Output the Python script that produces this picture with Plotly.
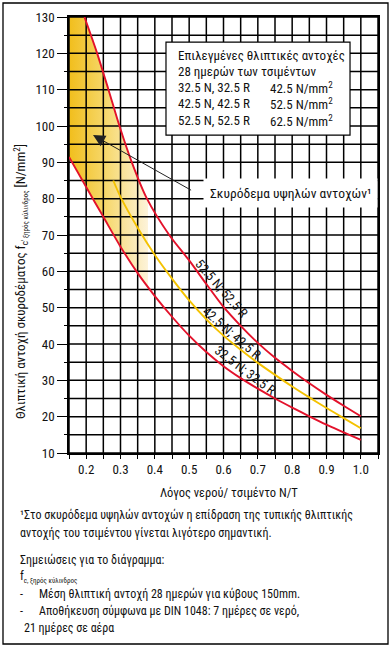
import numpy as np
import plotly.graph_objects as go

# ---------------- data ----------------
# 52.5 N, 52.5 R (upper red)
x_525 = [0.195, 0.232, 0.265, 0.297, 0.333, 0.377, 0.442, 0.50, 0.55, 0.60, 0.65, 0.70, 0.75, 0.80, 0.85, 0.90, 0.95, 1.00]
y_525 = [130, 120, 110, 100, 90, 80, 70, 63, 56.5, 50.2, 45, 40.3, 36.2, 32.6, 29.2, 26, 23, 20.1]
# 42.5 N, 42.5 R (yellow)
x_425 = [0.279, 0.30, 0.35, 0.40, 0.45, 0.50, 0.55, 0.60, 0.65, 0.70, 0.75, 0.80, 0.85, 0.90, 0.95, 1.00]
y_425 = [85, 80.5, 72, 64.5, 58, 52, 46.8, 42.3, 38.4, 34.8, 31.5, 28.3, 25.3, 22.4, 19.6, 16.8]
# 32.5 N, 32.5 R (lower red)
x_325 = [0.15, 0.20, 0.25, 0.30, 0.35, 0.40, 0.45, 0.50, 0.55, 0.60, 0.65, 0.70, 0.75, 0.80, 0.85, 0.90, 0.95, 1.00]
y_325 = [91.5, 83.2, 75, 66.8, 59.5, 53.2, 47.5, 42.3, 37.8, 33.9, 30.6, 27.7, 25.0, 22.5, 20.1, 17.8, 15.7, 13.6]

# high-strength concrete zone (shaded) ends at this w/c
hs_x_end = 0.38

x_range = [0.15, 1.05]
y_range = [10, 130]
x_tick_vals = [0.2, 0.3, 0.4, 0.5, 0.6, 0.7, 0.8, 0.9, 1.0]
x_tick_text = ["0.2", "0.3", "0.4", "0.5", "0.6", "0.7", "0.8", "0.9", "1.0"]
y_tick_vals = [10, 20, 30, 40, 50, 60, 70, 80, 90, 100, 110, 120, 130]

legend_title = ["Επιλεγμένες θλιπτικές αντοχές", "28 ημερών των τσιμέντων"]
legend_cement = ["32.5 N, 32.5 R", "42.5 N, 42.5 R", "52.5 N, 52.5 R"]
legend_strength = ["42.5 N/mm<sup>2</sup>", "52.5 N/mm<sup>2</sup>", "62.5 N/mm<sup>2</sup>"]

FONT = "Roboto Condensed, DejaVu Sans Condensed, Liberation Sans Narrow, Liberation Sans, Arial, sans-serif"
RED = "#E3122B"
YEL = "#F4C200"

# ---------------- figure ----------------
W, H = 392, 648
L, R, T, B = 69, 14, 17, 195
pw, ph = W - L - R, H - T - B

def px_x(p):
    return (p - L) / pw

def px_y(p):
    return (H - B - p) / ph

fig = go.Figure()

# gradient filled zone between the 32.5 and 52.5 curves
xs = np.linspace(x_range[0], hs_x_end, 80)
lo = np.interp(xs, x_325, y_325)
up = np.minimum(np.interp(xs, x_525, y_525, left=y_range[1]), y_range[1])
fig.add_trace(go.Scatter(
    x=np.concatenate([xs, xs[::-1]]), y=np.concatenate([lo, up[::-1]]),
    mode="lines", line=dict(width=0), fill="toself",
    fillgradient=dict(type="horizontal",
                      colorscale=[[0, "#F1BE1C"], [0.45, "#F6D769"], [1, "#FDF3DA"]]),
    hoverinfo="skip", showlegend=False))

# grid drawn above the fill
gx, gy = [], []
for v in np.arange(x_range[0], x_range[1] + 1e-9, 0.05):
    gx += [v, v, None]
    gy += [y_range[0], y_range[1], None]
for v in np.arange(y_range[0], y_range[1] + 1e-9, 5):
    gx += [x_range[0], x_range[1], None]
    gy += [v, v, None]
fig.add_trace(go.Scatter(x=gx, y=gy, mode="lines", line=dict(color="black", width=1.5),
                         hoverinfo="skip", showlegend=False))

for xv, yv, col in [(x_325, y_325, RED), (x_425, y_425, YEL), (x_525, y_525, RED)]:
    fig.add_trace(go.Scatter(x=xv, y=yv, mode="lines",
                             line=dict(color=col, width=1.9, shape="spline", smoothing=0.8),
                             hoverinfo="skip", showlegend=False))

fig.update_xaxes(range=x_range, tickvals=x_tick_vals, ticktext=x_tick_text, automargin=False,
                 showgrid=False, zeroline=False, showline=True, mirror=True,
                 linecolor="black", linewidth=1.5,
                 ticks="outside", ticklen=4, tickwidth=1.2, tickcolor="black",
                 minor=dict(dtick=0.05, tick0=0.15, ticks="outside", ticklen=4, tickwidth=1.2,
                            tickcolor="black", showgrid=False),
                 tickfont=dict(family=FONT, size=13, color="#111"))
fig.update_yaxes(range=y_range, tickvals=y_tick_vals, automargin=False,
                 showgrid=False, zeroline=False, showline=True, mirror=True,
                 linecolor="black", linewidth=1.5,
                 ticks="outside", ticklen=10, tickwidth=1.2, tickcolor="black",
                 minor=dict(dtick=5, tick0=10, ticks="outside", ticklen=3, tickwidth=1.2,
                            tickcolor="black", showgrid=False),
                 tickfont=dict(family=FONT, size=13, color="#111"))

# legend-like box
shapes = [
    dict(type="rect", xref="x", yref="y", x0=0.4325, x1=0.9685, y0=97.5, y1=123.1,
         fillcolor="white", line=dict(color="black", width=1.2), layer="above"),
    dict(type="rect", xref="paper", yref="paper", x0=px_x(3), x1=px_x(388), y0=px_y(644), y1=px_y(3),
         fillcolor="rgba(0,0,0,0)", line=dict(color="black", width=1.3), layer="above"),
]

ann = []
box_lines_y = [119.5, 115.1, 110.5, 106.1, 101.4]
for i, t in enumerate(legend_title):
    ann.append(dict(x=0.4617, y=box_lines_y[i], text=t))
for i in range(3):
    ann.append(dict(x=0.4617, y=box_lines_y[2 + i], text=legend_cement[i]))
    ann.append(dict(x=0.7297, y=box_lines_y[2 + i], text=legend_strength[i]))
annotations = []
for a in ann:
    annotations.append(dict(xref="x", yref="y", xanchor="left", yanchor="middle", showarrow=False,
                            font=dict(family=FONT, size=13, color="#111"), **a))

# arrow to high-strength zone
annotations.append(dict(xref="x", yref="y", axref="x", ayref="y", x=0.22, y=97.5, ax=0.51, ay=82.1,
                        text="", showarrow=True, arrowhead=2, arrowsize=2.4, arrowwidth=1,
                        arrowcolor="#222"))
annotations.append(dict(xref="x", yref="y", x=0.5403, y=81.5, xanchor="left", yanchor="middle",
                        text="Σκυρόδεμα υψηλών αντοχών¹", showarrow=False, bgcolor="white",
                        borderpad=6, font=dict(family=FONT, size=13.5, color="#111")))

# curve labels
for txt, xx, yy, ang in [("52.5 N; 52.5 R", 0.595, 55.4, 49),
                         ("42.5 N; 42.5 R", 0.626, 43.0, 41),
                         ("32.5 N; 32.5 R", 0.664, 32.6, 37)]:
    annotations.append(dict(xref="x", yref="y", x=xx, y=yy, text=txt, textangle=ang,
                            showarrow=False, font=dict(family=FONT, size=13, color="#111")))

# axis titles
annotations.append(dict(xref="paper", yref="paper", x=px_x(21), y=px_y(282), textangle=-90,
                        text="Θλιπτική αντοχή σκυροδέματος f<sub>c'<span style='font-size:7px'> ξηρός κύλινδρος</span></sub> [N/mm<sup>2</sup>]",
                        showarrow=False, xanchor="center", yanchor="middle",
                        font=dict(family=FONT, size=13, color="#111")))
annotations.append(dict(xref="paper", yref="paper", x=px_x(229), y=px_y(493),
                        text="Λόγος νερού/ τσιμέντο Ν/Τ", showarrow=False,
                        xanchor="center", yanchor="middle",
                        font=dict(family=FONT, size=12.5, color="#111")))

notes = [
    (18, 515, "¹Στο σκυρόδεμα υψηλών αντοχών η επίδραση της τυπικής θλιπτικής"),
    (18, 533, "αντοχής του τσιμέντου γίνεται λιγότερο σημαντική."),
    (18, 560, "Σημειώσεις για το διάγραμμα:"),
    (18, 577, "f<sub><span style='font-size:7px'>c, ξηρός κύλινδρος</span></sub>"),
    (18, 594, "-"),
    (37, 594, "Μέση θλιπτική αντοχή 28 ημερών για κύβους 150mm."),
    (18, 611, "-"),
    (37, 611, "Αποθήκευση σύμφωνα με DIN 1048: 7 ημέρες σε νερό,"),
    (22, 628, "21 ημέρες σε αέρα"),
]
for xp, yp, t in notes:
    annotations.append(dict(xref="paper", yref="paper", x=px_x(xp), y=px_y(yp), text=t,
                            showarrow=False, xanchor="left", yanchor="middle",
                            font=dict(family=FONT, size=12, color="#111")))

fig.update_layout(width=W, height=H, margin=dict(l=L, r=R, t=T, b=B),
                  paper_bgcolor="white", plot_bgcolor="white",
                  shapes=shapes, annotations=annotations, showlegend=False)

fig.write_html("out.html", config={"displayModeBar": False},
               post_script="document.body.style.margin='0';document.body.style.padding='0';")
